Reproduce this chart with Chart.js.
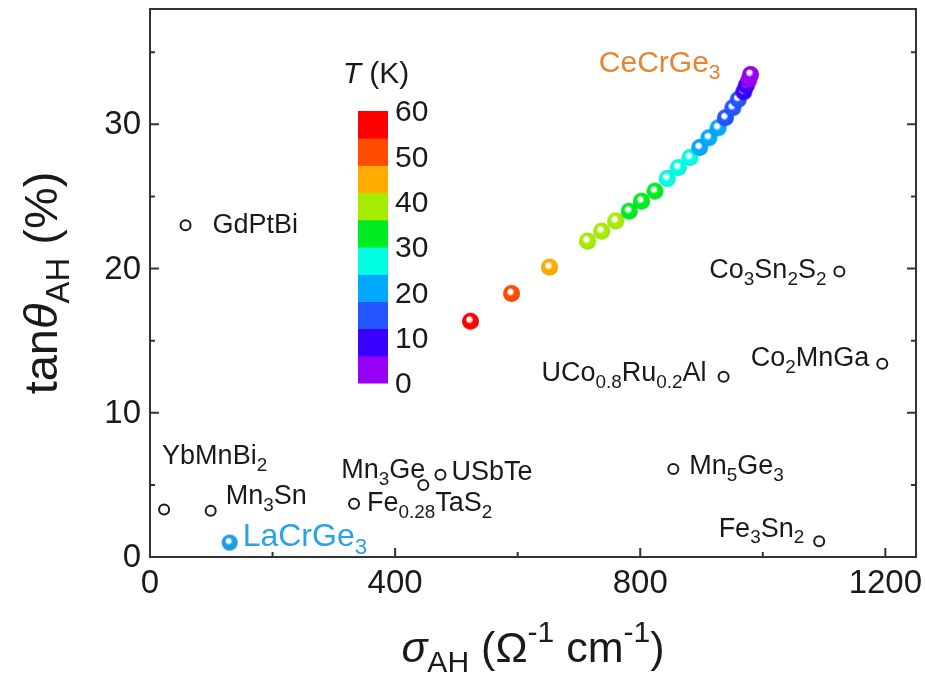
<!DOCTYPE html>
<html>
<head>
<meta charset="utf-8">
<script src="https://cdn.jsdelivr.net/npm/chart.js@4.4.1/dist/chart.umd.min.js"></script>
<style>
  html, body { margin: 0; padding: 0; background: #fff; }
  #wrap { width: 925px; height: 677px; }
</style>
</head>
<body>
<div id="wrap"><canvas id="chart"></canvas></div>
<script>
// CeCrGe3 at different temperatures (sigma_AH, tan theta_AH, T in K)
var ceSigma = [523, 590, 652, 714, 737, 760, 782, 802, 824, 844, 862, 881, 897, 912, 927, 939, 951, 960, 969, 973, 977, 980];
var ceTan   = [16.35, 18.27, 20.1, 21.9, 22.6, 23.3, 23.98, 24.67, 25.37, 26.25, 27.0, 27.7, 28.4, 29.07, 29.76, 30.46, 31.15, 31.73, 32.26, 32.7, 33.07, 33.46];
var ceTemp  = [57, 51, 45, 41, 39, 37, 35, 33, 31, 29, 27, 25, 23, 21, 19, 17, 15, 13, 11, 9, 5, 3];

// other materials (open circles)
var refNames = ["GdPtBi", "Co_{3}Sn_{2}S_{2}", "Co_{2}MnGa", "UCo_{0.8}Ru_{0.2}Al", "Mn_{5}Ge_{3}", "Fe_{3}Sn_{2}",
                "YbMnBi_{2}", "Mn_{3}Sn", "Fe_{0.28}TaS_{2}", "Mn_{3}Ge", "USbTe"];
var refSigma = [58, 1125, 1195, 936, 854, 1092, 23, 99, 333, 446, 474];
var refTan   = [23.0, 19.8, 13.4, 12.5, 6.1, 1.1, 3.3, 3.2, 3.7, 5.0, 5.7];

// LaCrGe3
var laSigma = [130];
var laTan   = [1.0];

// colour bar
var cbarTicks  = [0, 10, 20, 30, 40, 50, 60];
var cbarColors = ["#9600f5", "#3a00ff", "#2356ff", "#00a8ff", "#00ffe2", "#00ec22", "#a6ec00", "#ffab00", "#ff4c00", "#ff0000"];

var xTickVals = [0, 400, 800, 1200];
var yTickVals = [0, 10, 20, 30];

// label offsets in px from each open circle: [dx, dy, align]
var refLabelPos = [
  [27, 0, "left"], [-13, -1, "right"], [-13, -5, "right"], [-17, -3, "right"], [16, -2, "left"],
  [-15, -12, "right"], [-2, -53, "left"], [15, -14, "left"], [13, 0, "left"], [2, -14, "right"], [11, -2, "left"]
];

var FAM = '"Liberation Sans", Arial, sans-serif';
var INK = "#1a1a1a";

function tempColor(t) {
  var i = Math.min(cbarColors.length - 1, Math.floor(t / 6));
  return cbarColors[i];
}

function darker(hex, f) {
  var n = parseInt(hex.slice(1), 16);
  var r = (n >> 16) & 255, g = (n >> 8) & 255, b = n & 255;
  return "rgb(" + Math.round(r * f) + "," + Math.round(g * f) + "," + Math.round(b * f) + ")";
}

function makeBall(color, r) {
  var c = document.createElement("canvas");
  var s = Math.ceil(r * 2 + 2);
  c.width = s; c.height = s;
  var g = c.getContext("2d");
  var cx = s / 2, cy = s / 2;
  var grad = g.createRadialGradient(cx - r * 0.2, cy - r * 0.3, r * 0.05, cx, cy, r);
  grad.addColorStop(0, "#ffffff");
  grad.addColorStop(0.22, "rgba(255,255,255,0.85)");
  grad.addColorStop(0.45, color);
  grad.addColorStop(0.85, color);
  grad.addColorStop(1, darker(color, 0.85));
  g.fillStyle = grad;
  g.beginPath();
  g.arc(cx, cy, r, 0, Math.PI * 2);
  g.fill();
  return c;
}

var ceBalls = ceTemp.map(function (t) { return makeBall(tempColor(t), 8.5); });
var laBall = makeBall("#1e9be4", 8);

function parseRich(s) {
  var out = [], re = /([_^~])\{([^}]*)\}|([^_^~]+)/g, m;
  while ((m = re.exec(s))) {
    if (m[1]) out.push({ t: m[2], mode: m[1] == "_" ? "sub" : m[1] == "^" ? "sup" : "n", it: m[1] == "~" });
    else out.push({ t: m[3], mode: "n", it: false });
  }
  return out;
}

function drawRich(ctx, s, x, y, size, align, color) {
  var segs = parseRich(s);
  function font(sg) {
    var sz = sg.mode == "n" ? size : size * 0.7;
    return (sg.it ? "italic " : "") + sz + "px " + FAM;
  }
  var w = 0;
  segs.forEach(function (sg) { ctx.font = font(sg); sg.w = ctx.measureText(sg.t).width; w += sg.w; });
  var x0 = align == "right" ? x - w : align == "center" ? x - w / 2 : x;
  ctx.fillStyle = color;
  ctx.textBaseline = "middle";
  ctx.textAlign = "left";
  segs.forEach(function (sg) {
    ctx.font = font(sg);
    var dy = sg.mode == "sub" ? size * 0.33 : sg.mode == "sup" ? -size * 0.38 : 0;
    ctx.fillText(sg.t, x0, y + dy);
    x0 += sg.w;
  });
}

var decorPlugin = {
  id: "decor",
  afterDraw: function (chart) {
    var ctx = chart.ctx, a = chart.chartArea;
    var xs = chart.scales.x, ys = chart.scales.y;
    ctx.save();

    // frame
    ctx.strokeStyle = "#333";
    ctx.lineWidth = 2;
    ctx.strokeRect(a.left, a.top, a.right - a.left, a.bottom - a.top);

    // inward ticks
    ctx.beginPath();
    for (var v = 0; v <= 1200; v += 200) {
      var px = xs.getPixelForValue(v), len = v % 400 == 0 ? 9 : 5;
      ctx.moveTo(px, a.bottom); ctx.lineTo(px, a.bottom - len);
    }
    for (var u = 0; u <= 35; u += 5) {
      var py = ys.getPixelForValue(u), l2 = u % 10 == 0 ? 9 : 5;
      ctx.moveTo(a.left, py); ctx.lineTo(a.left + l2, py);
      ctx.moveTo(a.right, py); ctx.lineTo(a.right - l2, py);
    }
    ctx.stroke();

    // tick labels
    ctx.fillStyle = INK;
    ctx.font = "33px " + FAM;
    ctx.textAlign = "center";
    ctx.textBaseline = "top";
    xTickVals.forEach(function (t) { ctx.fillText(String(t), xs.getPixelForValue(t), a.bottom + 10); });
    ctx.textAlign = "right";
    ctx.textBaseline = "middle";
    yTickVals.forEach(function (t) { ctx.fillText(String(t), a.left - 9, ys.getPixelForValue(t) + 1); });

    // labels of the other materials
    refNames.forEach(function (name, i) {
      var p = refLabelPos[i];
      var px = xs.getPixelForValue(refSigma[i]), py = ys.getPixelForValue(refTan[i]);
      drawRich(ctx, name, px + p[0], py + p[1], 27, p[2], INK);
    });
    var lx = xs.getPixelForValue(laSigma[0]), ly = ys.getPixelForValue(laTan[0]);
    drawRich(ctx, "LaCrGe_{3}", lx + 13, ly - 5, 32, "left", "#29a2e6");
    var last = ceSigma.length - 1;
    var cx = xs.getPixelForValue(ceSigma[last]), cy = ys.getPixelForValue(ceTan[last]);
    drawRich(ctx, "CeCrGe_{3}", cx - 30, cy - 11, 30, "right", "#e8842f");

    // colour bar
    var bx = 358, bw = 30, bTop = 111, bBot = 383;
    var seg = (bBot - bTop) / cbarColors.length;
    cbarColors.forEach(function (c, i) {
      ctx.fillStyle = c;
      ctx.fillRect(bx, bBot - (i + 1) * seg, bw, seg + 0.5);
    });
    ctx.fillStyle = INK;
    ctx.font = "30px " + FAM;
    ctx.textAlign = "left";
    ctx.textBaseline = "middle";
    cbarTicks.forEach(function (t) {
      ctx.fillText(String(t), bx + bw + 7, bBot - t / 60 * (bBot - bTop) + 2);
    });
    drawRich(ctx, "~{T} (K)", 376, 75, 30, "center", INK);

    // axis titles
    drawRich(ctx, "~{σ}_{AH} (Ω^{-1} cm^{-1})", (a.left + a.right) / 2, 650, 43, "center", INK);
    ctx.translate(44, (a.top + a.bottom) / 2);
    ctx.rotate(-Math.PI / 2);
    drawRich(ctx, "tan~{θ}_{AH} (%)", 0, 0, 47, "center", INK);
    ctx.restore();
  }
};

var refData = refSigma.map(function (s, i) { return { x: s, y: refTan[i] }; });
var ceData = ceSigma.map(function (s, i) { return { x: s, y: ceTan[i] }; });
var laData = laSigma.map(function (s, i) { return { x: s, y: laTan[i] }; });

var chart = new Chart(document.getElementById("chart"), {
  type: "scatter",
  data: {
    datasets: [
      {
        label: "others",
        data: refData,
        pointRadius: 5,
        pointBorderWidth: 2,
        pointBorderColor: INK,
        pointBackgroundColor: "#ffffff"
      },
      {
        label: "LaCrGe3",
        data: laData,
        pointRadius: 8,
        pointStyle: laBall
      },
      {
        label: "CeCrGe3",
        data: ceData,
        pointRadius: 8,
        pointStyle: function (c) { return ceBalls[c.dataIndex]; }
      }
    ]
  },
  options: {
    responsive: true,
    maintainAspectRatio: false,
    animation: false,
    layout: { padding: { top: 8, right: 9, left: 0, bottom: 0 } },
    plugins: { legend: { display: false }, tooltip: { enabled: false } },
    scales: {
      x: {
        type: "linear",
        min: 0,
        max: 1250,
        afterFit: function (s) { s.height = 120; },
        grid: { display: false, drawTicks: false },
        border: { display: false },
        ticks: { display: false }
      },
      y: {
        type: "linear",
        min: 0,
        max: 38,
        afterFit: function (s) { s.width = 150; },
        grid: { display: false, drawTicks: false },
        border: { display: false },
        ticks: { display: false }
      }
    }
  },
  plugins: [decorPlugin]
});
</script>
</body>
</html>
